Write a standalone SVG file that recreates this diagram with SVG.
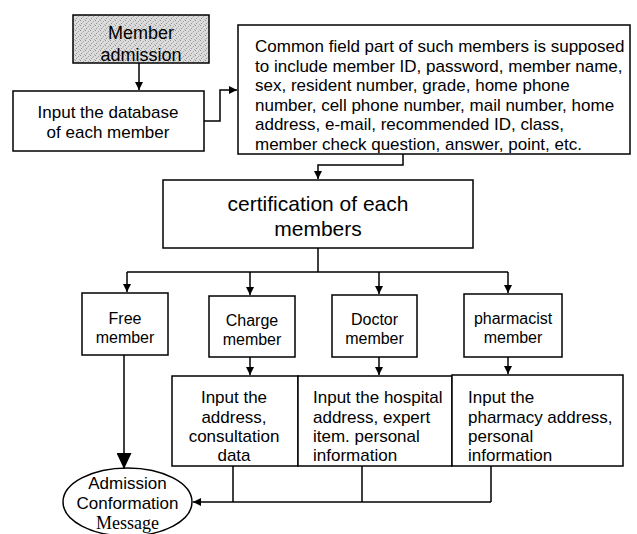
<svg xmlns="http://www.w3.org/2000/svg" width="637" height="534" viewBox="0 0 637 534">
<defs>
<pattern id="dots" width="5" height="5" patternUnits="userSpaceOnUse">
<rect width="5" height="5" fill="#dcdcdc"/>
<rect x="0" y="0" width="1" height="1" fill="#8c8c8c"/>
<rect x="3" y="1" width="1" height="1" fill="#a4a4a4"/>
<rect x="1" y="3" width="1" height="1" fill="#959595"/>
<rect x="4" y="4" width="1" height="1" fill="#b0b0b0"/>
<rect x="2" y="2" width="1" height="1" fill="#c0c0c0"/>
</pattern>
<marker id="arr" viewBox="0 0 10 10" refX="10" refY="5" markerWidth="8" markerHeight="8" markerUnits="userSpaceOnUse" orient="auto">
<path d="M0,0 L10,5 L0,10 Z" fill="#000"/>
</marker>
<marker id="big" viewBox="0 0 10 10" refX="10" refY="5" markerWidth="16" markerHeight="15" markerUnits="userSpaceOnUse" orient="auto" preserveAspectRatio="none">
<path d="M0,0 L10,5 L0,10 Z" fill="#000"/>
</marker>
</defs>
<style>
.box{fill:#fff;stroke:#000;stroke-width:1.5}
.t{font-family:"Liberation Sans",Arial,sans-serif;font-size:17px;fill:#000}
.c{text-anchor:middle}
.line{fill:none;stroke:#000;stroke-width:1.5}
.ar{marker-end:url(#arr)}
</style>
<rect width="637" height="534" fill="#fff"/>
<g id="member-admission">
<rect x="73" y="15" width="136" height="48" fill="url(#dots)" stroke="#000" stroke-width="1.5"/>
<text class="t c" x="141" y="39" style="font-size:18px">Member</text>
<text class="t c" x="141" y="61" style="font-size:18px">admission</text>
</g>
<g id="input-database">
<rect class="box" x="13" y="91" width="191" height="60"/>
<text class="t c" x="108" y="118">Input the database</text>
<text class="t c" x="108" y="138">of each member</text>
</g>
<g id="common-field">
<rect class="box" x="238" y="25" width="392" height="129"/>
<text class="t" x="255" y="52">Common field part of such members is supposed</text>
<text class="t" x="255" y="71.5">to include member ID, password, member name,</text>
<text class="t" x="255" y="91">sex, resident number, grade, home phone</text>
<text class="t" x="255" y="110.5">number, cell phone number, mail number, home</text>
<text class="t" x="255" y="130">address, e-mail, recommended ID, class,</text>
<text class="t" x="255" y="149.5">member check question, answer, point, etc.</text>
</g>
<g id="certification">
<rect class="box" x="163" y="180" width="310" height="68"/>
<text class="t c" x="318" y="210.5" style="font-size:21px">certification of each</text>
<text class="t c" x="318" y="235.5" style="font-size:21px">members</text>
</g>
<g id="free-member">
<rect class="box" x="82" y="293" width="86" height="62"/>
<text class="t c" x="125" y="324" style="font-size:16px">Free</text>
<text class="t c" x="125" y="343" style="font-size:16px">member</text>
</g>
<g id="charge-member">
<rect class="box" x="209" y="296" width="86" height="61"/>
<text class="t c" x="252" y="326" style="font-size:16px">Charge</text>
<text class="t c" x="252" y="345" style="font-size:16px">member</text>
</g>
<g id="doctor-member">
<rect class="box" x="332" y="295" width="85" height="62"/>
<text class="t c" x="374.5" y="325" style="font-size:16px">Doctor</text>
<text class="t c" x="374.5" y="344" style="font-size:16px">member</text>
</g>
<g id="pharmacist-member">
<rect class="box" x="464" y="294" width="98" height="63"/>
<text class="t c" x="513" y="324" style="font-size:16px">pharmacist</text>
<text class="t c" x="513" y="343" style="font-size:16px">member</text>
</g>
<g id="input-charge">
<rect class="box" x="172" y="376" width="126" height="90"/>
<text class="t c" x="234" y="403">Input the</text>
<text class="t c" x="234" y="423">address,</text>
<text class="t c" x="234" y="442">consultation</text>
<text class="t c" x="234" y="461">data</text>
</g>
<g id="input-doctor">
<rect class="box" x="298" y="376" width="154" height="90"/>
<text class="t" x="313" y="403">Input the hospital</text>
<text class="t" x="313" y="423">address, expert</text>
<text class="t" x="313" y="442">item. personal</text>
<text class="t" x="313" y="461">information</text>
</g>
<g id="input-pharmacy">
<rect class="box" x="452" y="375" width="171" height="91"/>
<text class="t" x="468" y="403">Input the</text>
<text class="t" x="468" y="423">pharmacy address,</text>
<text class="t" x="468" y="442">personal</text>
<text class="t" x="468" y="461">information</text>
</g>
<g id="admission-message">
<ellipse cx="127.5" cy="502" rx="64.5" ry="34" fill="#fff" stroke="#000" stroke-width="1.5"/>
<text class="t c" x="127.5" y="489">Admission</text>
<text class="t c" x="127.5" y="509">Conformation</text>
<text class="c" x="127.5" y="529" style="font-family:'Liberation Serif','Times New Roman',serif;font-size:18px">Message</text>
</g>
<g id="connectors">
<path class="line ar" d="M139,63 V90"/>
<path class="line ar" d="M204,121 H220 V90 H237"/>
<path class="line ar" d="M403,154 V165 H318 V179"/>
<path class="line" d="M318,248 V272 M127,272 H508"/>
<path class="line ar" d="M127,272 V292"/>
<path class="line ar" d="M250,272 V295"/>
<path class="line ar" d="M379,272 V294"/>
<path class="line ar" d="M508,272 V293"/>
<path class="line" d="M124,355 V469" marker-end="url(#big)"/>
<path class="line ar" d="M250,357 V375"/>
<path class="line ar" d="M379,357 V375"/>
<path class="line ar" d="M508,357 V374"/>
<path class="line" d="M233,466 V502 M362,466 V502 M491,466 V502"/>
<path class="line ar" d="M491,502 H193"/>
</g>
</svg>
